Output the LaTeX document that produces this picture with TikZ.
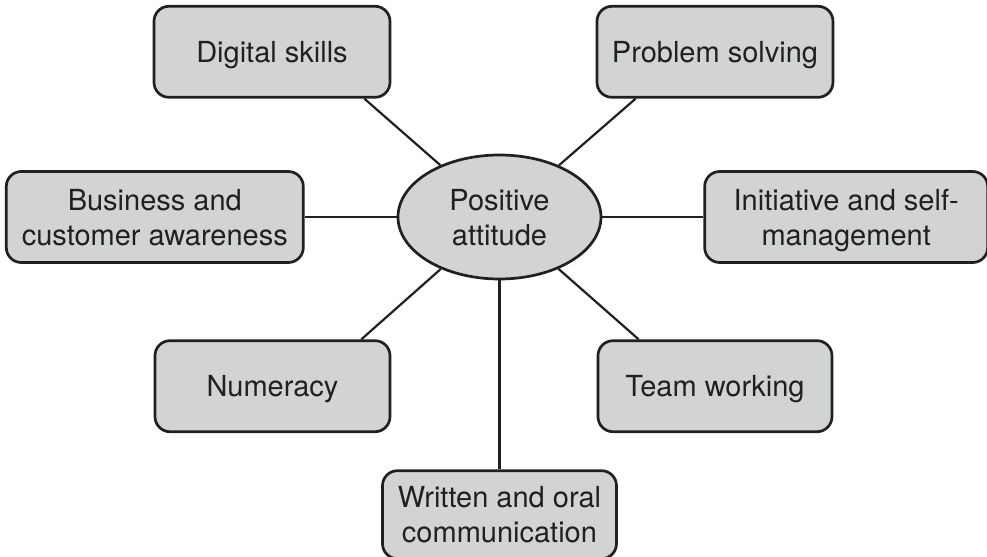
\documentclass[tikz,border=0pt]{standalone}
\usepackage{fontspec}
\setmainfont{TeX Gyre Heros}
\usepackage{xcolor}
\usetikzlibrary{positioning}
\usetikzlibrary{shapes.geometric}
\definecolor{boxgray}{HTML}{D1D3D4}
\definecolor{inkblack}{HTML}{231F20}
\def\boxHeight{45.5}
\def\boxWidth{118}
\def\skillFont{\fontsize{14.5}{17.5}\selectfont}
\tikzset{% mind map styles
  skill/.style = {draw=inkblack, fill=boxgray, rectangle, rounded corners=7.5pt,
    line width=1.35pt, minimum width=\boxWidth pt, minimum height=\boxHeight pt,
    align=center, text=inkblack, inner sep=0, text depth=0pt},
  hub/.style   = {draw=inkblack, fill=boxgray, ellipse, line width=1.35pt,
    minimum width=101.5pt, minimum height=62pt, align=center, text=inkblack,
    inner sep=0, text depth=0pt},
  link/.style  = {draw=inkblack, line width=1.1pt},
}

\begin{document}
\begin{tikzpicture}[font=\skillFont]
      \useasboundingbox (-249.75pt,108.5pt) rectangle (243.75pt,-170pt);

      \node[hub] (PA) at (0,0) {Positive\\attitude};

      % Upper skills
      \node[skill, above=27.5pt of PA, xshift=-113.75pt] (DS) {Digital skills};
      \node[skill, above=27.5pt of PA, xshift=107.75pt] (PS) {Problem solving};

      % Side skills
      \node[skill, left=46pt of PA, minimum width=148.5pt] (BA) {Business and\\customer awareness};
      \node[skill, right=50.5pt of PA, minimum width=141.5pt] (IM) {Initiative and self-\\management};

      % Lower skills
      \node[skill, below=29.5pt of PA, xshift=-113.5pt, minimum width=117.5pt] (NU) {Numeracy};
      \node[skill, below=29.5pt of PA, xshift=107.75pt, minimum width=117pt] (TW) {Team working};
      \node[skill, below=94.5pt of PA, minimum width=117pt, minimum height=44pt] (WO) {Written and oral\\communication};

      % Spokes
      \draw[link] (PA) -- ([xshift=-13.5pt]DS.south east);
      \draw[link] (PA) -- ([xshift=20pt]PS.south west);
      \draw[link] (PA) -- (BA);
      \draw[link] (PA) -- (IM);
      \draw[link] (PA) -- ([xshift=-15pt]NU.north east);
      \draw[link] (PA) -- ([xshift=21pt]TW.north west);
      \draw[link] (PA) -- (WO);
\end{tikzpicture}
\end{document}
